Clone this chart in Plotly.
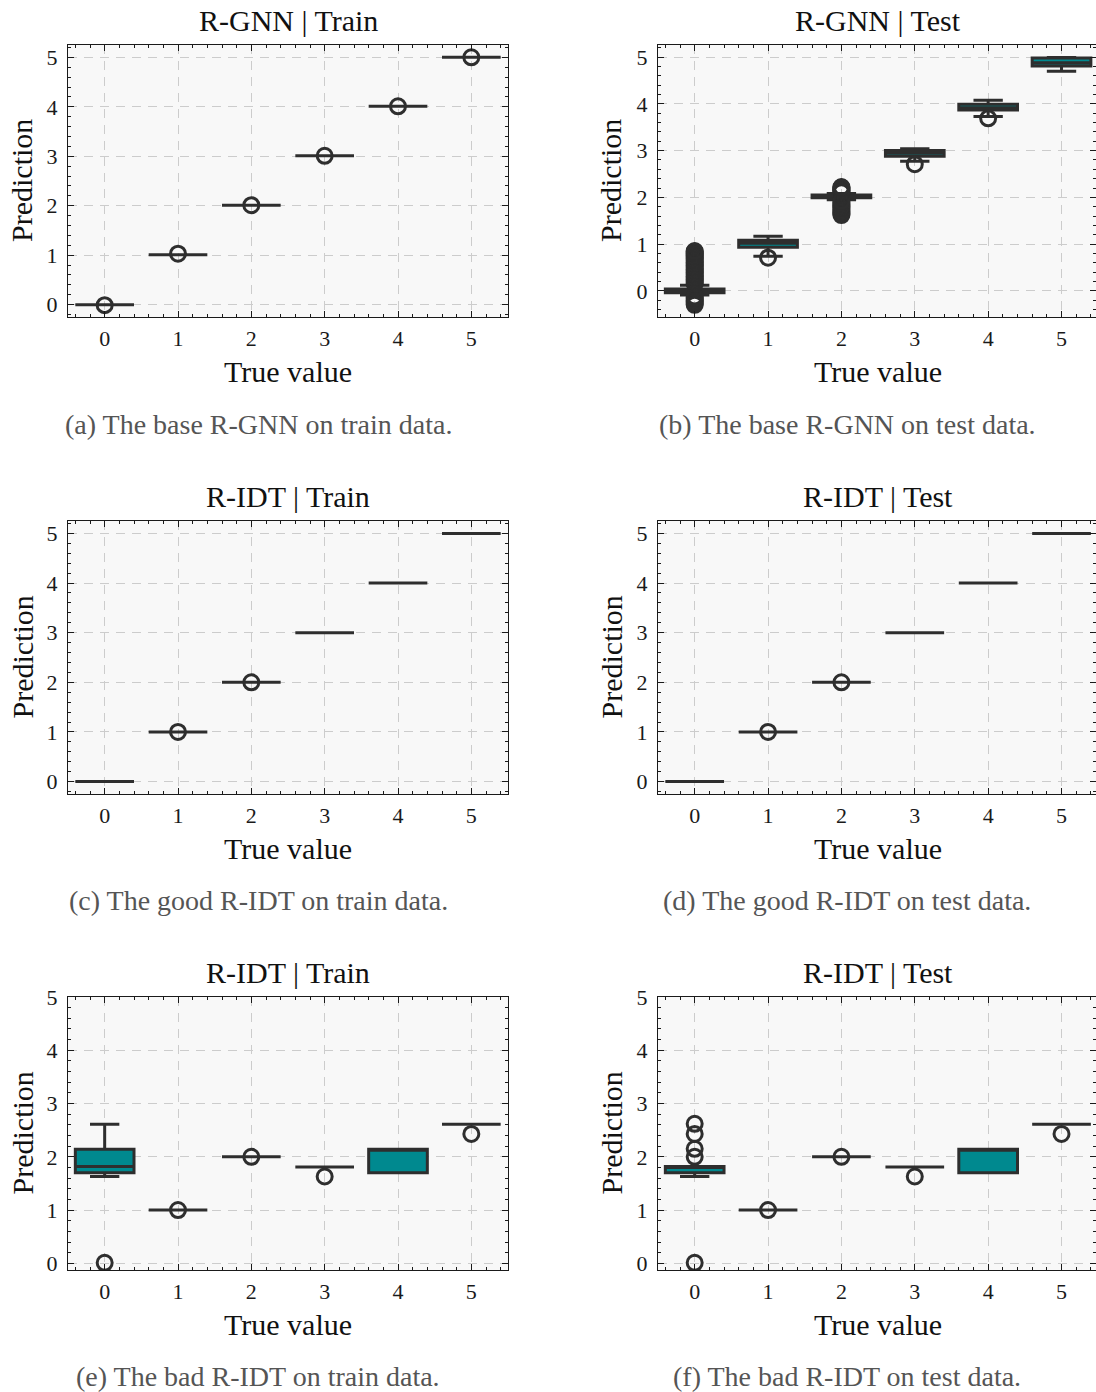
import plotly.graph_objects as go

W, H = 1096, 1392

cats = [0, 1, 2, 3, 4, 5]
tick_labels = ["0", "1", "2", "3", "4", "5"]

# ---- (a) R-GNN | Train
a_q1 = [0.00, 1.01, 2.01, 3.01, 4.01, 5.00]
a_med = [0.00, 1.01, 2.01, 3.01, 4.01, 5.00]
a_q3 = [0.00, 1.01, 2.01, 3.01, 4.01, 5.00]
a_lo = [0.00, 1.01, 2.01, 3.01, 4.01, 5.00]
a_hi = [0.00, 1.01, 2.01, 3.01, 4.01, 5.00]
a_out_x = [0, 1, 2, 3, 4, 5]
a_out_y = [-0.01, 1.03, 2.01, 3.01, 4.01, 5.00]

# ---- (b) R-GNN | Test
b_q1 = [-0.04, 0.93, 1.99, 2.88, 3.87, 4.81]
b_med = [0.01, 1.02, 2.02, 2.95, 3.92, 4.88]
b_q3 = [0.04, 1.08, 2.05, 3.00, 3.99, 4.98]
b_lo = [-0.09, 0.74, 1.95, 2.77, 3.73, 4.70]
b_hi = [0.12, 1.17, 2.08, 3.04, 4.08, 4.99]
b_out_x = [0] * 32 + [1] + [2] * 18 + [3] + [4]
b_out_y = [-0.30, -0.27, -0.24, -0.21, -0.18, -0.15, -0.12,
           0.15, 0.18, 0.21, 0.24, 0.27, 0.30, 0.33, 0.36, 0.39, 0.42,
           0.45, 0.48, 0.51, 0.54, 0.57, 0.60, 0.63, 0.66, 0.69, 0.72,
           0.75, 0.78, 0.81, 0.84, 0.85,
           0.71,
           1.62, 1.65, 1.68, 1.71, 1.74, 1.77, 1.80, 1.83, 1.86, 1.89,
           1.92, 2.11, 2.13, 2.15, 2.17, 2.19, 2.21, 2.22,
           2.71,
           3.69]

# ---- (c) R-IDT | Train (good)
c_q1 = [0.0, 1.0, 2.0, 3.0, 4.0, 5.0]
c_med = [0.0, 1.0, 2.0, 3.0, 4.0, 5.0]
c_q3 = [0.0, 1.0, 2.0, 3.0, 4.0, 5.0]
c_lo = [0.0, 1.0, 2.0, 3.0, 4.0, 5.0]
c_hi = [0.0, 1.0, 2.0, 3.0, 4.0, 5.0]
c_out_x = [1, 2]
c_out_y = [1.0, 2.0]

# ---- (d) R-IDT | Test (good)
d_q1 = [0.0, 1.0, 2.0, 3.0, 4.0, 5.0]
d_med = [0.0, 1.0, 2.0, 3.0, 4.0, 5.0]
d_q3 = [0.0, 1.0, 2.0, 3.0, 4.0, 5.0]
d_lo = [0.0, 1.0, 2.0, 3.0, 4.0, 5.0]
d_hi = [0.0, 1.0, 2.0, 3.0, 4.0, 5.0]
d_out_x = [1, 2]
d_out_y = [1.0, 2.0]

# ---- (e) R-IDT | Train (bad)
e_q1 = [1.70, 1.00, 2.00, 1.81, 1.70, 2.61]
e_med = [1.82, 1.00, 2.00, 1.81, 2.14, 2.61]
e_q3 = [2.14, 1.00, 2.00, 1.81, 2.14, 2.61]
e_lo = [1.63, 1.00, 2.00, 1.81, 1.70, 2.61]
e_hi = [2.61, 1.00, 2.00, 1.81, 2.14, 2.61]
e_out_x = [0, 1, 2, 3, 5]
e_out_y = [0.01, 1.00, 2.00, 1.63, 2.43]

# ---- (f) R-IDT | Test (bad)
f_q1 = [1.70, 1.00, 2.00, 1.81, 1.70, 2.61]
f_med = [1.82, 1.00, 2.00, 1.81, 2.14, 2.61]
f_q3 = [1.82, 1.00, 2.00, 1.81, 2.14, 2.61]
f_lo = [1.63, 1.00, 2.00, 1.81, 1.70, 2.61]
f_hi = [1.82, 1.00, 2.00, 1.81, 2.14, 2.61]
f_out_x = [0, 0, 0, 0, 0, 1, 2, 3, 5]
f_out_y = [0.01, 2.00, 2.15, 2.43, 2.62, 1.00, 2.00, 1.63, 2.43]

titles = ["R-GNN | Train", "R-GNN | Test", "R-IDT | Train", "R-IDT | Test",
          "R-IDT | Train", "R-IDT | Test"]
captions = ["(a) The base R-GNN on train data.", "(b) The base R-GNN on test data.",
            "(c) The good R-IDT on train data.", "(d) The good R-IDT on test data.",
            "(e) The bad R-IDT on train data.", "(f) The bad R-IDT on test data."]
x_title = "True value"
y_title = "Prediction"

panels = [
    (a_q1, a_med, a_q3, a_lo, a_hi, a_out_x, a_out_y),
    (b_q1, b_med, b_q3, b_lo, b_hi, b_out_x, b_out_y),
    (c_q1, c_med, c_q3, c_lo, c_hi, c_out_x, c_out_y),
    (d_q1, d_med, d_q3, d_lo, d_hi, d_out_x, d_out_y),
    (e_q1, e_med, e_q3, e_lo, e_hi, e_out_x, e_out_y),
    (f_q1, f_med, f_q3, f_lo, f_hi, f_out_x, f_out_y),
]
y_ranges = [[-0.25, 5.25], [-0.56, 5.26], [-0.25, 5.25], [-0.25, 5.25],
            [-0.125, 5.0], [-0.125, 5.0]]

# layout geometry (pixels)
col_x = [(68, 508), (658, 1096)]
col_xrange = [[-0.5, 5.5], [-0.5, 5.47]]
row_y = [(45, 317), (521, 794), (997, 1270)]
title_y = [20, 496, 972]
xtitle_y = [372, 848, 1324]
caption_y = [424, 900, 1376]
caption_x = [258, 847]
ytitle_x = [22, 611]

FONT = "Liberation Serif"
DARK = "#2e2e2e"
TEAL = "#00898f"

fig = go.Figure()
layout = dict(
    width=W, height=H, margin=dict(l=0, r=0, t=0, b=0, pad=0, autoexpand=False),
    autosize=False, paper_bgcolor="white", plot_bgcolor="#f8f8f8", showlegend=False,
    font=dict(family=FONT, size=22, color="#1a1a1a"),
    annotations=[],
)

for i, (q1, med, q3, lo, hi, ox, oy) in enumerate(panels):
    r, c = divmod(i, 2)
    sfx = "" if i == 0 else str(i + 1)
    xa, ya = "x" + sfx, "y" + sfx
    fig.add_trace(go.Box(
        x=cats, q1=q1, median=med, q3=q3, lowerfence=lo, upperfence=hi,
        boxpoints=False, width=0.8, whiskerwidth=0.5,
        fillcolor=TEAL, line=dict(color=DARK, width=3),
        xaxis=xa, yaxis=ya, hoverinfo="skip",
    ))
    fig.add_trace(go.Scatter(
        x=ox, y=oy, mode="markers",
        marker=dict(symbol="circle-open", size=15, color=DARK,
                    line=dict(width=3, color=DARK)),
        xaxis=xa, yaxis=ya, hoverinfo="skip",
    ))
    x0, x1 = col_x[c]
    yt, yb = row_y[r]
    common = dict(
        showline=True, linecolor="#1a1a1a", linewidth=1.3, mirror="allticks",
        ticks="inside", ticklen=6, tickwidth=1.1, tickcolor="#1a1a1a",
        showgrid=True, gridcolor="#cccccc", gridwidth=1.1, griddash="9px,7px",
        zeroline=False, automargin=False,
        minor=dict(ticks="inside", ticklen=3, tickwidth=1, tickcolor="#1a1a1a",
                   dtick=0.2, showgrid=False),
        tickfont=dict(family=FONT, size=22, color="#1a1a1a"),
    )
    layout["xaxis" + sfx] = dict(
        domain=[x0 / W, min(x1 / W, 1.0)], range=col_xrange[c],
        anchor=ya, tickmode="array", tickvals=cats, ticktext=tick_labels,
        ticklabelstandoff=1, **common)
    layout["yaxis" + sfx] = dict(
        domain=[1 - yb / H, 1 - yt / H], range=y_ranges[i],
        anchor=xa, tickmode="linear", tick0=0, dtick=1,
        ticklabelstandoff=5, **common)
    cx = (x0 + 1098 if c == 1 else x0 + x1) / 2
    layout["annotations"] += [
        dict(text=titles[i], x=cx / W, y=1 - title_y[r] / H, xref="paper", yref="paper",
             xanchor="center", yanchor="middle", showarrow=False,
             font=dict(family=FONT, size=30, color="#111111")),
        dict(text=x_title, x=cx / W, y=1 - xtitle_y[r] / H, xref="paper", yref="paper",
             xanchor="center", yanchor="middle", showarrow=False,
             font=dict(family=FONT, size=30, color="#111111")),
        dict(text=y_title, x=ytitle_x[c] / W, y=1 - (yt + yb) / 2 / H, xref="paper",
             yref="paper", xanchor="center", yanchor="middle", showarrow=False,
             textangle=-90, font=dict(family=FONT, size=30, color="#111111")),
        dict(text=captions[i], x=caption_x[c] / W, y=1 - caption_y[r] / H, xref="paper",
             yref="paper", xanchor="center", yanchor="middle", showarrow=False,
             font=dict(family=FONT, size=28, color="#555555")),
    ]

fig.update_layout(**layout)
fig.write_html(
    "out.html",
    config={"responsive": False, "displayModeBar": False},
    post_script="document.body.style.margin='0';document.body.style.overflow='hidden';",
)
